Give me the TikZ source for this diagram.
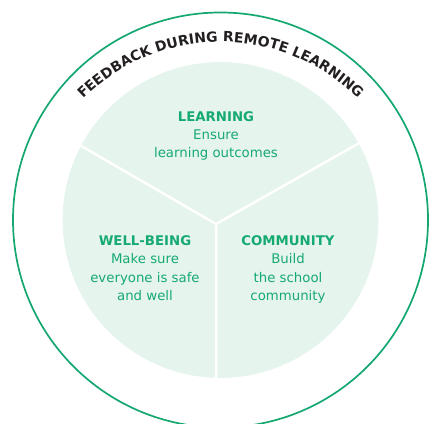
\documentclass[tikz,border=0pt]{standalone}
\usepackage{fontspec}
\setmainfont{DejaVu Sans}
\definecolor{ringgreen}{RGB}{20, 168, 112}
\definecolor{textgreen}{RGB}{22, 170, 115}
\definecolor{discgreen}{RGB}{229, 244, 236}
\definecolor{titlegray}{RGB}{35, 31, 32}
\usetikzlibrary{decorations.text}

\tikzset{
  section/.style={text=textgreen, align=center, font=\fontsize{13.3}{18.2}\selectfont},
  divider/.style={draw=white, line width=2.5pt}
}

\begin{document}
\begin{tikzpicture}
  \useasboundingbox (-7.75, -7.135) rectangle (7.363, 7.732);

  % Outer ring
  \draw[ringgreen, line width=1.7pt] (0, 0) circle (7.293);

  % Inner disc
  \fill[discgreen] (0, 0) circle (5.55);

  % Dividers
  \coordinate (hub) at (-0.158, -0.141);
  \coordinate (tl) at (152:5.55);
  \coordinate (tr) at (29:5.55);
  \coordinate (bt) at (268.4:5.55);
  \draw[divider] (hub) -- (tl);
  \draw[divider] (hub) -- (tr);
  \draw[divider] (hub) -- (bt);

  % Title along the ring
  \path[decorate, decoration={text along path, text align=center, text color=titlegray,
      text={|\fontsize{14}{14}\selectfont\bfseries|FEEDBACK DURING REMOTE LEARNING}}]
    (0, -0.562) ++(160:6.82) arc[start angle=160, end angle=20, radius=6.82];

  % Sections
  \node[section] (learning) at (-0.158, 2.95) {\textbf{LEARNING}\\Ensure\\learning outcomes};
  \node[section] (wellbeing) at (-2.654, -1.69) {\textbf{WELL-BEING}\\Make sure\\everyone is safe\\and well};
  \node[section] (community) at (2.372, -1.74) {\textbf{COMMUNITY}\\Build\\the school\\community};
\end{tikzpicture}
\end{document}
